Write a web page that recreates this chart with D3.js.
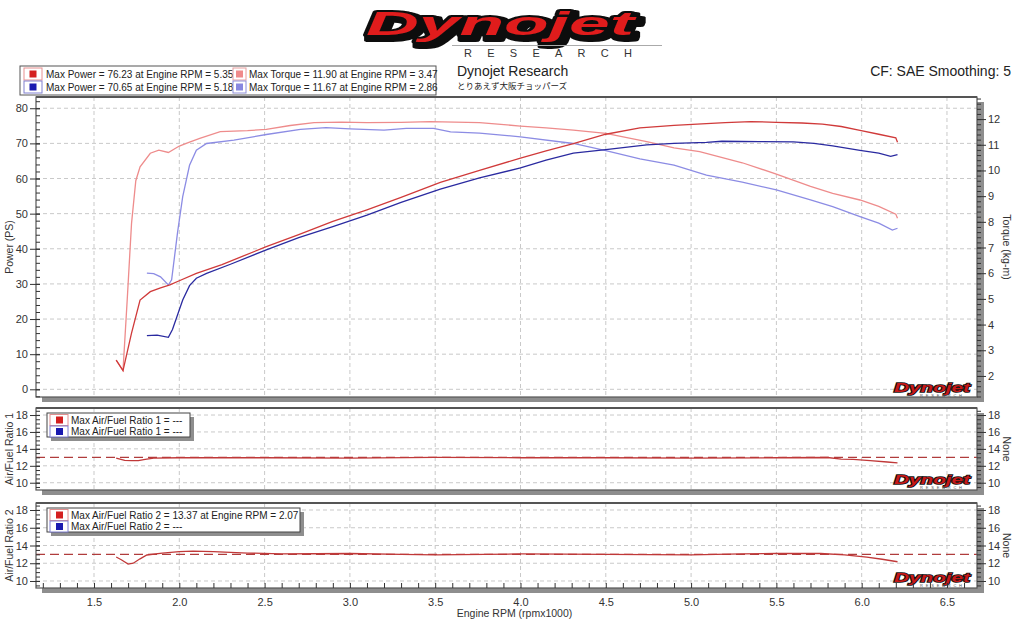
<!DOCTYPE html>
<html><head><meta charset="utf-8">
<script src="https://cdnjs.cloudflare.com/ajax/libs/d3/7.8.5/d3.min.js"></script>
<style>
html,body{margin:0;padding:0;background:#fff;}
svg{display:block;font-family:"Liberation Sans",Arial,sans-serif;}
</style></head>
<body><svg id="c" width="1024" height="639"></svg>
<script>
// ---------- DATA ----------
const xTicks = [1.5,2.0,2.5,3.0,3.5,4.0,4.5,5.0,5.5,6.0,6.5];
const powerTicks = [0,10,20,30,40,50,60,70,80];
const torqueTicks = [2,3,4,5,6,7,8,9,10,11,12];
const afrTicks = [10,12,14,16,18];

const power1Rpm = [1.63,1.67,1.72,1.77,1.83,1.89,1.945,2.0,2.10,2.25,2.51,2.70,2.90,3.10,3.30,3.53,3.76,4.0,4.15,4.31,4.50,4.70,4.90,5.09,5.20,5.35,5.50,5.65,5.77,5.88,5.99,6.10,6.20,6.21];
const power1 = [8.3,5.3,16,25.4,27.8,28.9,29.7,30.9,33.0,35.5,40.6,44.0,47.8,51.1,54.6,58.9,62.3,65.8,67.9,69.9,72.6,74.4,75.1,75.6,75.9,76.2,76.0,75.8,75.5,74.8,73.7,72.6,71.6,70.3];

const power2Rpm = [1.81,1.87,1.936,1.96,2.02,2.06,2.10,2.16,2.30,2.51,2.70,2.90,3.10,3.30,3.53,3.76,4.0,4.15,4.31,4.50,4.74,4.90,5.09,5.18,5.40,5.60,5.72,5.83,5.99,6.10,6.17,6.21];
const power2 = [15.3,15.4,14.8,17,25.4,29.5,31.6,33.0,35.6,39.7,43.2,46.3,49.6,53.2,57.0,60.2,63.0,65.2,67.2,68.2,69.6,70.0,70.3,70.6,70.5,70.4,70.0,69.3,68.0,67.2,66.3,66.8];

const torque1Rpm = [1.63,1.67,1.695,1.72,1.745,1.77,1.83,1.88,1.936,2.0,2.06,2.12,2.24,2.40,2.51,2.65,2.79,2.95,3.10,3.30,3.47,3.76,4.0,4.15,4.31,4.50,4.74,4.90,5.05,5.30,5.50,5.70,5.83,5.99,6.10,6.20,6.21];
const torque1 = [2.62,2.21,5.0,7.94,9.6,10.14,10.67,10.79,10.70,10.95,11.10,11.25,11.51,11.55,11.60,11.75,11.86,11.88,11.86,11.87,11.90,11.86,11.73,11.66,11.57,11.44,11.12,10.88,10.73,10.30,9.86,9.38,9.11,8.85,8.60,8.30,8.14];

const torque2Rpm = [1.81,1.85,1.89,1.936,1.955,1.99,2.02,2.06,2.10,2.16,2.32,2.51,2.71,2.86,3.0,3.2,3.33,3.49,3.59,3.76,4.0,4.31,4.50,4.70,4.90,5.09,5.30,5.50,5.70,5.83,5.99,6.10,6.18,6.21];
const torque2 = [6.0,5.98,5.86,5.54,5.74,7.6,8.98,10.2,10.79,11.05,11.18,11.40,11.60,11.67,11.62,11.57,11.64,11.64,11.50,11.45,11.31,11.05,10.77,10.45,10.21,9.82,9.55,9.24,8.85,8.59,8.20,7.95,7.68,7.75];

const afr1Rpm = [1.63,1.68,1.72,1.76,1.80,1.85,2.0,2.5,3.0,3.5,4.0,4.5,5.0,5.5,5.8,5.88,5.95,6.05,6.15,6.21];
const afr1 = [12.9,12.65,12.6,12.62,12.75,12.9,12.95,12.95,12.9,13.0,12.95,12.95,12.9,12.95,12.98,12.8,12.75,12.6,12.45,12.35];

const afr2Rpm = [1.63,1.66,1.70,1.73,1.77,1.81,1.90,2.0,2.08,2.2,2.4,2.6,3.0,3.3,3.5,4.0,4.5,5.0,5.3,5.5,5.76,5.9,6.03,6.12,6.21];
const afr2 = [12.7,12.4,11.9,12.0,12.5,12.93,13.15,13.3,13.37,13.3,13.15,13.05,13.1,13.0,12.95,13.05,13.0,12.95,13.05,13.1,13.1,12.95,12.7,12.45,12.17];

const afrTarget = 13.0;

const legendMain = [
  {text:"Max Power = 76.23 at Engine RPM = 5.35", color:"#d42020", border:"#e89090"},
  {text:"Max Power = 70.65 at Engine RPM = 5.18", color:"#1a1ab0", border:"#8080d0"},
  {text:"Max Torque = 11.90 at Engine RPM = 3.47", color:"#f08a8a", border:"#e8a0a0"},
  {text:"Max Torque = 11.67 at Engine RPM = 2.86", color:"#8888e0", border:"#9090d8"}
];
const legendAfr1 = ["Max Air/Fuel Ratio 1 = ---","Max Air/Fuel Ratio 1 = ---"];
const legendAfr2 = ["Max Air/Fuel Ratio 2 = 13.37 at Engine RPM = 2.07","Max Air/Fuel Ratio 2 = ---"];

// ---------- LAYOUT ----------
const svg = d3.select("#c");
const defs = svg.append("defs");
const X0 = 36, X1 = 977;
const x = d3.scaleLinear().domain([1.16, 6.676]).range([X0, X1]);

const panels = {
  main:{y0:97,y1:397},
  a1:{y0:408,y1:490},
  a2:{y0:503,y1:588}
};
const yP = d3.scaleLinear().domain([-2.19, 83.2]).range([397, 97]);
const yT = d3.scaleLinear().domain([1.18, 12.86]).range([397, 97]);
const yA1 = d3.scaleLinear().domain([9.14, 18.83]).range([490, 408]);
const yA2 = d3.scaleLinear().domain([9.21, 18.79]).range([588, 503]);

const gridColor = "#c9c9c9";
const axisColor = "#333";

// drop-shadow filter for the logo
const f = defs.append("filter").attr("id","logoShadow").attr("x","-10%").attr("y","-30%").attr("width","130%").attr("height","170%");
f.append("feOffset").attr("in","SourceAlpha").attr("dx",3).attr("dy",3).attr("result","off");
f.append("feMorphology").attr("in","off").attr("operator","dilate").attr("radius",1.5).attr("result","dil");
f.append("feFlood").attr("flood-color","#111").attr("result","fl");
f.append("feComposite").attr("in","fl").attr("in2","dil").attr("operator","in").attr("result","sh");
const fm = f.append("feMerge");
fm.append("feMergeNode").attr("in","sh");
fm.append("feMergeNode").attr("in","SourceGraphic");

function panelFrame(p){
  svg.append("rect").attr("x",X0+6).attr("y",p.y0+5).attr("width",X1-X0+1).attr("height",p.y1-p.y0)
    .attr("fill","#8e8e8e");
  svg.append("rect").attr("x",X0).attr("y",p.y0).attr("width",X1-X0).attr("height",p.y1-p.y0)
    .attr("fill","#fff");
}
function grid(p, yScale, yVals){
  const g = svg.append("g");
  g.selectAll(".h").data(yVals).join("line")
    .attr("x1",X0).attr("x2",X1).attr("y1",d=>yScale(d)).attr("y2",d=>yScale(d))
    .attr("stroke",gridColor).attr("stroke-dasharray","4,3");
  g.selectAll(".v").data(xTicks).join("line")
    .attr("x1",d=>x(d)).attr("x2",d=>x(d)).attr("y1",p.y0).attr("y2",p.y1)
    .attr("stroke",gridColor).attr("stroke-dasharray","4,3");
}
function frameBorder(p){
  svg.append("rect").attr("x",X0).attr("y",p.y0).attr("width",X1-X0).attr("height",p.y1-p.y0)
    .attr("fill","none").attr("stroke","#555").attr("stroke-width",1.2);
  svg.append("line").attr("x1",X0).attr("x2",X1).attr("y1",p.y0).attr("y2",p.y0)
    .attr("stroke","#555").attr("stroke-width",2.2);
}
function styleAxis(g){
  g.select(".domain").remove();
  g.selectAll("line").attr("stroke",axisColor);
  g.selectAll("text").attr("fill","#333").style("font-size","11px").style("font-family","Liberation Sans, Arial, sans-serif");
}
function leftAxis(scale, major, minorStep, lo, hi){
  const minor = d3.range(lo, hi+1e-9, minorStep);
  const gm = svg.append("g").attr("transform",`translate(${X0},0)`)
    .call(d3.axisLeft(scale).tickValues(minor).tickSize(-4).tickFormat(""));
  styleAxis(gm);
  const g = svg.append("g").attr("transform",`translate(${X0},0)`)
    .call(d3.axisLeft(scale).tickValues(major).tickSize(6).tickPadding(2).tickFormat(d3.format("d")));
  styleAxis(g);
  g.selectAll(".tick line").attr("x2",-6).attr("x1",4);
}
function rightAxis(scale, major, minorStep, lo, hi){
  const minor = d3.range(lo, hi+1e-9, minorStep);
  const gm = svg.append("g").attr("transform",`translate(${X1},0)`)
    .call(d3.axisRight(scale).tickValues(minor).tickSize(4).tickFormat(""));
  styleAxis(gm);
  const g = svg.append("g").attr("transform",`translate(${X1},0)`)
    .call(d3.axisRight(scale).tickValues(major).tickSize(9).tickPadding(2).tickFormat(d3.format("d")));
  styleAxis(g);
}
function line(rpm, vals, yScale){
  return d3.line().x((d,i)=>x(rpm[i])).y(d=>yScale(d))(vals);
}
function smallLogo(xr, yb){
  const g = svg.append("g");
  g.append("text").attr("x",xr-76).attr("y",yb).text("Dynojet")
    .attr("textLength",76).attr("lengthAdjust","spacingAndGlyphs")
    .style("font-size","13px").style("font-weight","900").style("font-style","italic")
    .attr("fill","#c81818").attr("stroke","#111").attr("stroke-width",1.6).attr("paint-order","stroke");
  g.append("text").attr("x",xr-50).attr("y",yb+5).text("RESEARCH")
    .attr("textLength",42).attr("lengthAdjust","spacing")
    .style("font-size","4px").attr("fill","#555");
}

// ---------- HEADER ----------
const logo = svg.append("g");
logo.append("text").attr("x",366).attr("y",35).text("Dynojet")
  .attr("textLength",268).attr("lengthAdjust","spacingAndGlyphs")
  .style("font-size","34px").style("font-weight","900").style("font-style","italic")
  .attr("fill","#e01c1c").attr("stroke","#111").attr("stroke-width",4).attr("stroke-linejoin","round")
  .attr("paint-order","stroke").attr("filter","url(#logoShadow)");
logo.append("line").attr("x1",452).attr("x2",662).attr("y1",45.5).attr("y2",45.5).attr("stroke","#aaa");
logo.append("text").attr("x",464).attr("y",57).text("RESEARCH")
  .attr("textLength",168).attr("lengthAdjust","spacing")
  .style("font-size","11px").attr("fill","#333");

svg.append("text").attr("x",457).attr("y",76).text("Dynojet Research")
  .style("font-size","14px").attr("fill","#222");
svg.append("text").attr("x",457).attr("y",89).text("とりあえず大阪チョッパーズ")
  .style("font-size","8.5px").attr("fill","#222").style("font-family","Noto Sans CJK JP, sans-serif");
svg.append("text").attr("x",1011).attr("y",76).attr("text-anchor","end").text("CF: SAE Smoothing: 5")
  .style("font-size","14px").attr("fill","#222");

// main legend
const lg = svg.append("g");
lg.append("rect").attr("x",20).attr("y",66).attr("width",416).attr("height",29)
  .attr("fill","#fff").attr("stroke","#555");
defs.append("clipPath").attr("id","clipCol1")
  .append("rect").attr("x",20).attr("y",60).attr("width",213).attr("height",40);
const cols = [{bx:24,bw:18,tx:46,clip:"url(#clipCol1)"},{bx:233,bw:13,tx:249,clip:null}];
legendMain.forEach((d,i)=>{
  const c = cols[Math.floor(i/2)], row = i%2;
  const yc = 74 + row*13;
  lg.append("rect").attr("x",c.bx).attr("y",yc-6).attr("width",c.bw).attr("height",12)
    .attr("fill","#fff").attr("stroke",d.border);
  lg.append("rect").attr("x",c.bx+c.bw/2-3.5).attr("y",yc-3.5).attr("width",7).attr("height",7).attr("fill",d.color);
  const t = lg.append("text").attr("x",c.tx).attr("y",yc+4).text(d.text)
    .style("font-size","10px").attr("fill","#222");
  if(c.clip) t.attr("clip-path",c.clip);
});

// ---------- MAIN PANEL ----------
panelFrame(panels.main);
grid(panels.main, yP, powerTicks);
const mg = svg.append("g");
mg.append("path").attr("d",line(torque1Rpm,torque1,yT)).attr("fill","none").attr("stroke","#ee8c8c").attr("stroke-width",1.3);
mg.append("path").attr("d",line(torque2Rpm,torque2,yT)).attr("fill","none").attr("stroke","#8c8ce4").attr("stroke-width",1.3);
mg.append("path").attr("d",line(power1Rpm,power1,yP)).attr("fill","none").attr("stroke","#d03a3a").attr("stroke-width",1.3);
mg.append("path").attr("d",line(power2Rpm,power2,yP)).attr("fill","none").attr("stroke","#2a2aa0").attr("stroke-width",1.3);
smallLogo(970,392);
frameBorder(panels.main);
leftAxis(yP, powerTicks, 2, -2, 82);
rightAxis(yT, torqueTicks, 0.2, 1.2, 12.8);
svg.append("text").attr("transform",`translate(13,${(97+397)/2}) rotate(-90)`).attr("text-anchor","middle")
  .text("Power (PS)").style("font-size","10.5px").attr("fill","#333");
svg.append("text").attr("transform",`translate(1003,${(97+397)/2}) rotate(90)`).attr("text-anchor","middle")
  .text("Torque (kg-m)").style("font-size","10.5px").attr("fill","#333");

// ---------- AFR PANELS ----------
function afrPanel(p, yScale, rpm, vals, legend, legendW, title){
  panelFrame(p);
  grid(p, yScale, afrTicks);
  svg.append("line").attr("x1",X0).attr("x2",X1).attr("y1",yScale(afrTarget)).attr("y2",yScale(afrTarget))
    .attr("stroke","#b03c3c").attr("stroke-width",1.2).attr("stroke-dasharray","9,5");
  svg.append("path").attr("d",line(rpm,vals,yScale)).attr("fill","none").attr("stroke","#c03838").attr("stroke-width",1.3);
  smallLogo(970,p.y1-6);
  frameBorder(p);
  leftAxis(yScale, afrTicks, 0.5, Math.ceil(yScale.domain()[0]*2)/2, Math.floor(yScale.domain()[1]*2)/2);
  rightAxis(yScale, afrTicks, 0.5, Math.ceil(yScale.domain()[0]*2)/2, Math.floor(yScale.domain()[1]*2)/2);
  const lx = 47, ly = p.y0+5;
  const g = svg.append("g");
  g.append("rect").attr("x",lx+4).attr("y",ly+4).attr("width",legendW).attr("height",24).attr("fill","#8e8e8e");
  g.append("rect").attr("x",lx).attr("y",ly).attr("width",legendW).attr("height",24).attr("fill","#fff").attr("stroke","#444");
  legend.forEach((t,i)=>{
    const yc = ly+6.5+i*11.5;
    g.append("rect").attr("x",lx+3).attr("y",yc-5).attr("width",18).attr("height",11)
      .attr("fill","#fff").attr("stroke",i===0?"#e09090":"#8080d0");
    g.append("rect").attr("x",lx+9).attr("y",yc-3).attr("width",7).attr("height",7).attr("fill",i===0?"#d42020":"#1a1ab0");
    g.append("text").attr("x",lx+24).attr("y",yc+4).text(t).style("font-size","10px").attr("fill","#222");
  });
  svg.append("text").attr("transform",`translate(13,${(p.y0+p.y1)/2}) rotate(-90)`).attr("text-anchor","middle")
    .text(title).style("font-size","10.5px").attr("fill","#333");
  svg.append("text").attr("transform",`translate(1003,${(p.y0+p.y1)/2}) rotate(90)`).attr("text-anchor","middle")
    .text("None").style("font-size","10.5px").attr("fill","#333");
}
afrPanel(panels.a1, yA1, afr1Rpm, afr1, legendAfr1, 143, "Air/Fuel Ratio 1");
afrPanel(panels.a2, yA2, afr2Rpm, afr2, legendAfr2, 253, "Air/Fuel Ratio 2");

// ---------- X AXIS ----------
const xMinor = d3.range(1.2, 6.61, 0.1);
const gxm = svg.append("g").attr("transform",`translate(0,${panels.a2.y1})`)
  .call(d3.axisBottom(x).tickValues(xMinor).tickSize(-5).tickFormat(""));
styleAxis(gxm);
const gx = svg.append("g").attr("transform",`translate(0,${panels.a2.y1+5})`)
  .call(d3.axisBottom(x).tickValues(xTicks).tickSize(0).tickPadding(5).tickFormat(d3.format(".1f")));
styleAxis(gx);
svg.append("text").attr("x",(X0+X1)/2+8).attr("y",617).attr("text-anchor","middle")
  .text("Engine RPM (rpmx1000)").style("font-size","10.5px").attr("fill","#333");
</script></body></html>
